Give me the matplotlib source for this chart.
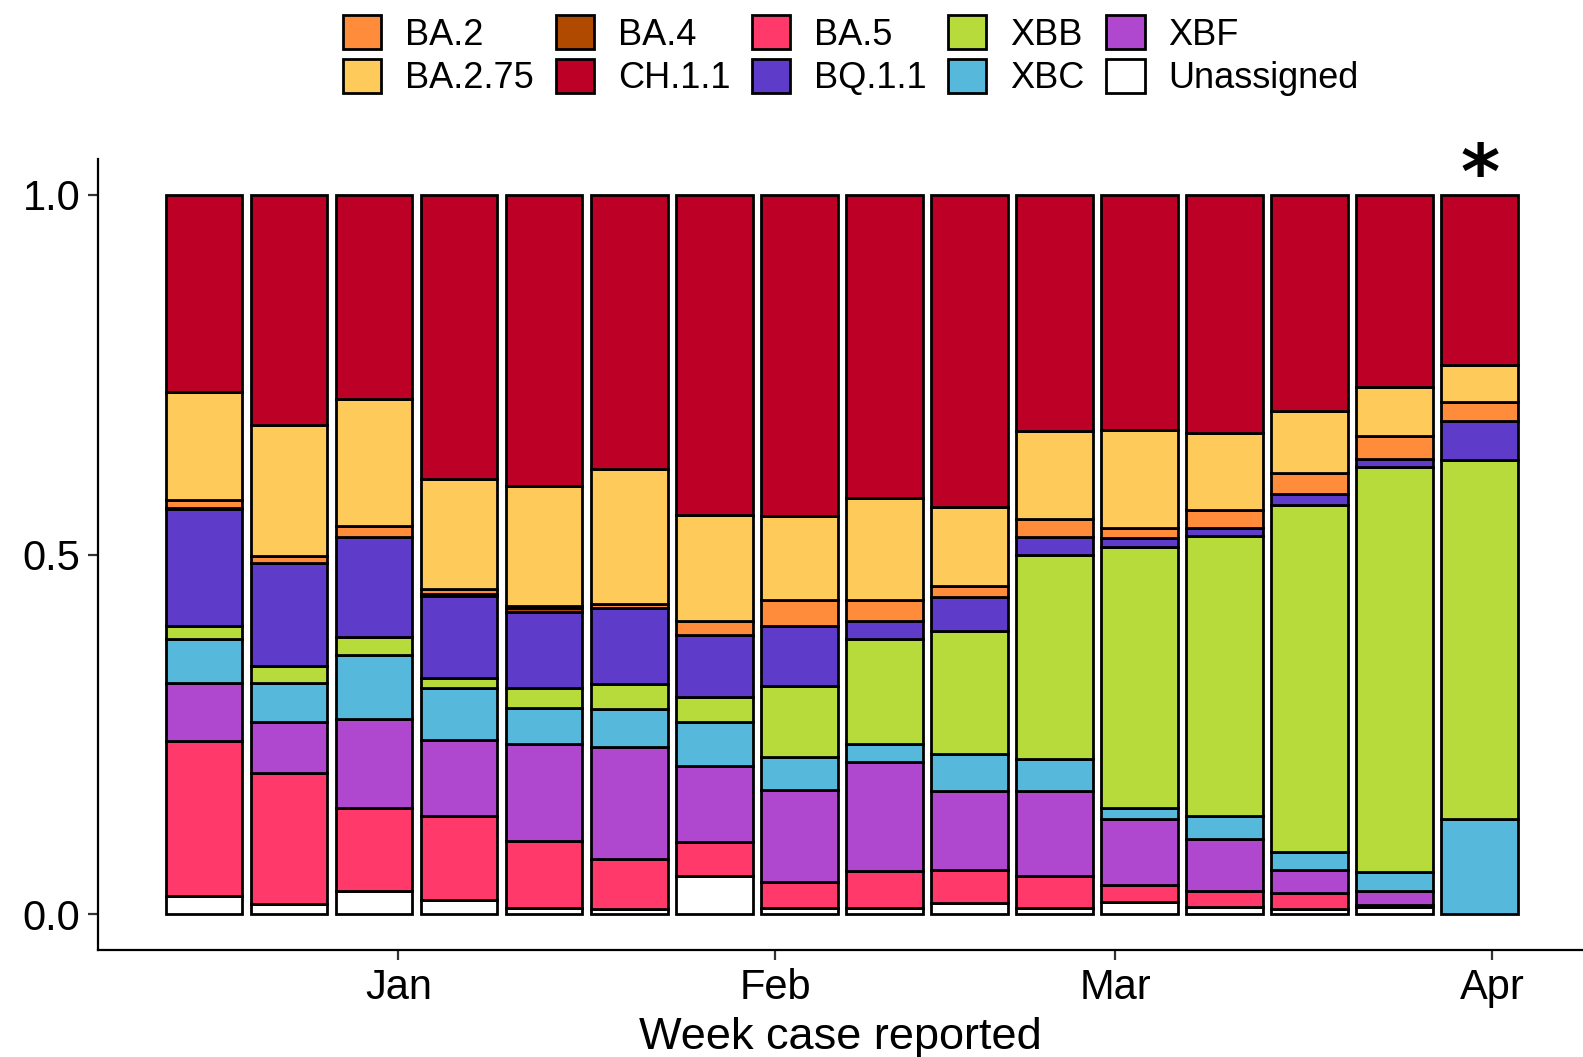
import numpy as np
import pandas as pd
import matplotlib
matplotlib.use("Agg")
import matplotlib.pyplot as plt
import matplotlib.dates as mdates
from matplotlib.patches import Patch

plt.rcParams['font.family'] = ['Liberation Sans', 'DejaVu Sans']

weeks = pd.date_range('2022-12-16', periods=16, freq='7D')

# proportions per week (bottom -> top stacking order below)
unassigned = [0.025, 0.014, 0.032, 0.020, 0.009, 0.007, 0.053, 0.009, 0.009, 0.015, 0.009, 0.017, 0.010, 0.007, 0.010, 0.0]
ba5 =        [0.216, 0.182, 0.116, 0.116, 0.093, 0.0705, 0.047, 0.036, 0.051, 0.047, 0.044, 0.023, 0.022, 0.022, 0.003, 0.0]
xbf =        [0.081, 0.071, 0.123, 0.106, 0.134, 0.1555, 0.106, 0.128, 0.151, 0.109, 0.118, 0.092, 0.072, 0.032, 0.020, 0.0]
xbc =        [0.060, 0.055, 0.089, 0.073, 0.0505, 0.052, 0.0615, 0.045, 0.025, 0.052, 0.045, 0.015, 0.033, 0.026, 0.026, 0.132]
xbb =        [0.018, 0.023, 0.025, 0.014, 0.0275, 0.035, 0.0345, 0.099, 0.1465, 0.171, 0.284, 0.363, 0.389, 0.482, 0.563, 0.500]
bq11 =       [0.163, 0.143, 0.139, 0.114, 0.106, 0.105, 0.086, 0.084, 0.0245, 0.0465, 0.025, 0.0125, 0.011, 0.015, 0.011, 0.053]
ba4 =        [0.002, 0.0, 0.0, 0.002, 0.005, 0.0, 0.0, 0.0, 0.0, 0.0, 0.0, 0.0, 0.0, 0.0, 0.0, 0.0]
ba2 =        [0.011, 0.010, 0.016, 0.007, 0.004, 0.006, 0.019, 0.036, 0.030, 0.016, 0.024, 0.0145, 0.025, 0.029, 0.032, 0.027]
ba275 =      [0.150, 0.182, 0.176, 0.153, 0.166, 0.188, 0.148, 0.117, 0.141, 0.109, 0.122, 0.136, 0.107, 0.087, 0.068, 0.052]
ch11 =       [0.274, 0.320, 0.284, 0.395, 0.405, 0.381, 0.445, 0.446, 0.422, 0.4345, 0.329, 0.327, 0.331, 0.300, 0.267, 0.236]

stack = [
    ('Unassigned', unassigned, '#FFFFFF'),
    ('BA.5', ba5, '#FF3A6B'),
    ('XBF', xbf, '#AF48CF'),
    ('XBC', xbc, '#56B8DA'),
    ('XBB', xbb, '#B8DB3C'),
    ('BQ.1.1', bq11, '#5E3BC8'),
    ('BA.4', ba4, '#B04A00'),
    ('BA.2', ba2, '#FF8C3B'),
    ('BA.2.75', ba275, '#FECB5B'),
    ('CH.1.1', ch11, '#BD0026'),
]
legend_order = ['BA.2', 'BA.2.75', 'BA.4', 'CH.1.1', 'BA.5', 'BQ.1.1', 'XBB', 'XBC', 'XBF', 'Unassigned']

fig = plt.figure(figsize=(15.83, 10.57), dpi=100)
ax = fig.add_axes([0.0621, 0.101, 0.9379, 0.7488])

x = mdates.date2num(weeks)
bottom = np.zeros(len(x))
colors = {}
for name, vals, col in stack:
    v = np.array(vals, dtype=float)
    m = v > 0
    ax.bar(x[m], v[m], bottom=bottom[m], width=6.3, color=col,
           edgecolor='black', linewidth=2.0, align='center')
    bottom += v
    colors[name] = col

ax.text(x[-1], 1.024, '*', ha='center', va='center', fontsize=54,
        fontweight='bold', family='DejaVu Sans')

jan1 = mdates.date2num(pd.Timestamp('2023-01-01'))
ax.set_xlim(jan1 - 24.7, jan1 + 97.5)
ax.set_ylim(-0.05, 1.05)
ax.set_yticks([0.0, 0.5, 1.0])
ax.set_yticklabels(['0.0', '0.5', '1.0'])
ax.xaxis.set_major_locator(mdates.MonthLocator())
ax.xaxis.set_major_formatter(mdates.DateFormatter('%b'))

for s in ['top', 'right']:
    ax.spines[s].set_visible(False)
for s in ['left', 'bottom']:
    ax.spines[s].set_linewidth(1.6)
    ax.spines[s].set_color('black')
ax.tick_params(axis='both', length=7, width=1.6, color='#333333',
               labelsize=30, labelcolor='black', pad=6)
ax.set_xlabel('Week case reported', fontsize=32.5, labelpad=6)

handles = [Patch(facecolor=colors[n], edgecolor='black', linewidth=2.0, label=n)
           for n in legend_order]
fig.legend(handles=handles, loc='upper center', bbox_to_anchor=(0.5375, 1.006),
           ncol=5, frameon=False, fontsize=26, handlelength=1.06,
           handleheight=1.06, handletextpad=0.66, columnspacing=0.6,
           labelspacing=0.18, borderaxespad=0.2)

fig.savefig('out.png', dpi=100)
